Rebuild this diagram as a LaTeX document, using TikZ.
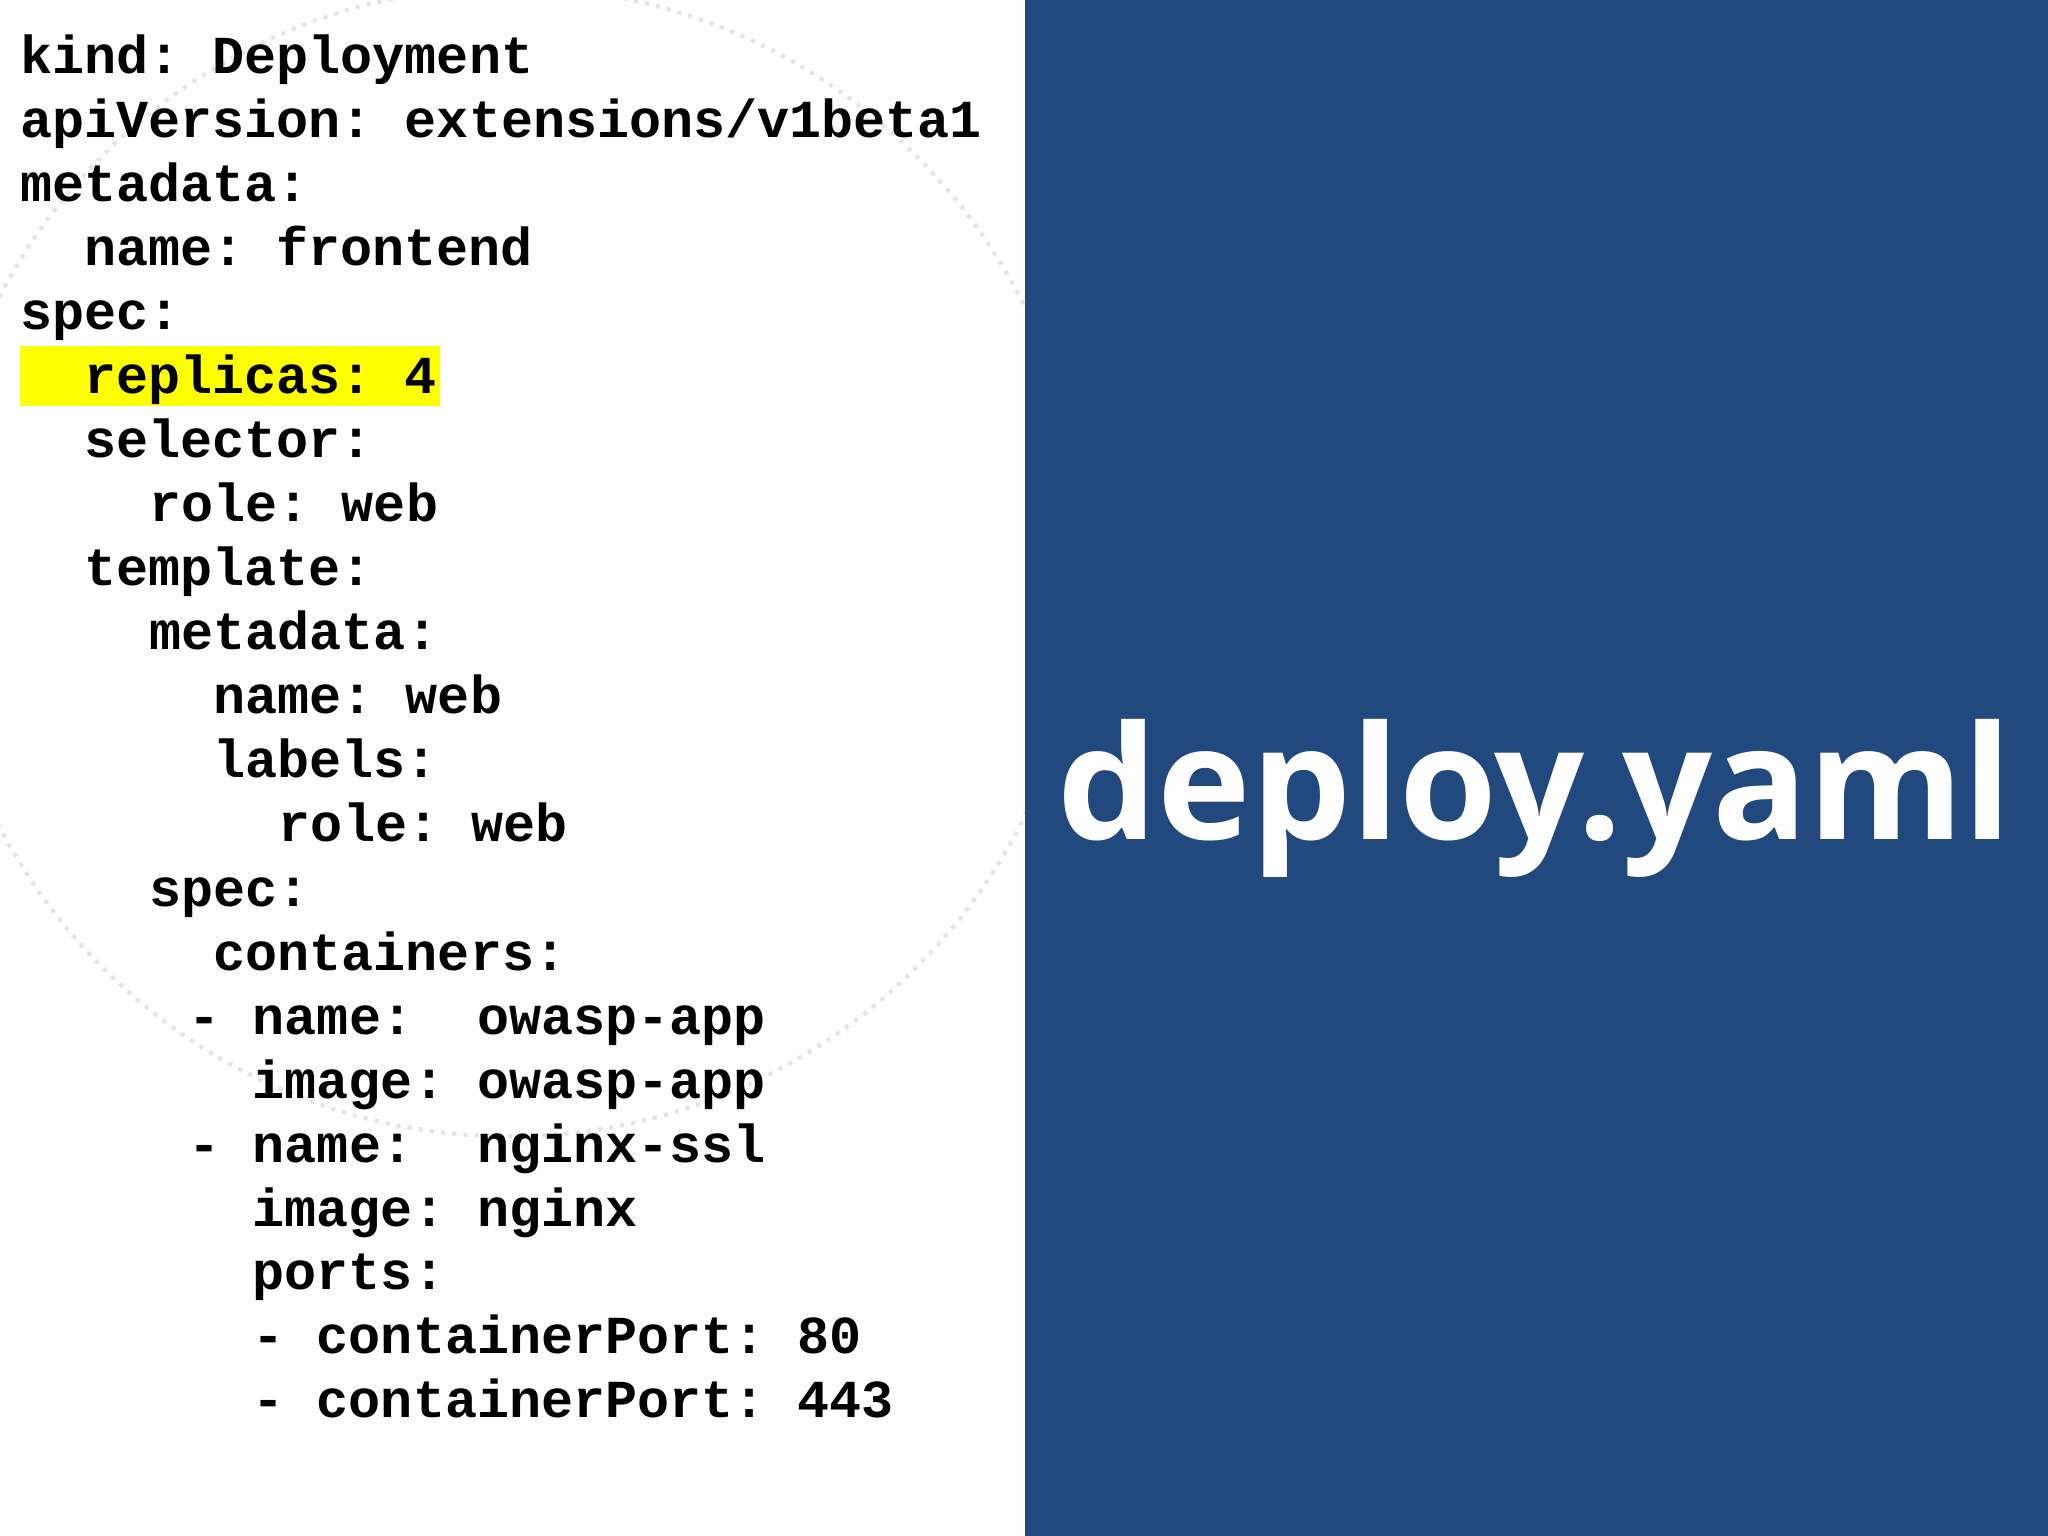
\documentclass[tikz,border=0pt]{standalone}
\usepackage{fontspec}
\setmonofont{Liberation Mono}
\newfontfamily\titlefont{Open Sans}
\definecolor{panel}{HTML}{22497D}
\definecolor{hl}{HTML}{FFFF00}
\begin{document}
\begin{tikzpicture}[x=0.013061cm,y=-0.013061cm,
  code/.style={anchor=base west,inner sep=0pt,font=\fontsize{15.2}{18}\selectfont\ttfamily\bfseries}]
\useasboundingbox (0,0) rectangle (1568,1176);
\fill[white] (0,0) rectangle (1568,1176);
\draw[black!10,dotted,line width=1.2pt] (390,430) circle (440);
\fill[panel] (785,0) rectangle (1568,1176);
\fill[hl] (15,265) rectangle (337,311);
\node[code] (l1) at (15,56) {kind: Deployment};
\node[code] (l2) at (15,105) {apiVersion: extensions/v1beta1};
\node[code] (l3) at (15,154) {metadata:};
\node[code] (l4) at (64,203) {name: frontend};
\node[code] (l5) at (15,252) {spec:};
\node[code] (l6) at (64,301) {replicas: 4};
\node[code] (l7) at (64,350) {selector:};
\node[code] (l8) at (114,399) {role: web};
\node[code] (l9) at (64,448) {template:};
\node[code] (l10) at (114,497) {metadata:};
\node[code] (l11) at (163,546) {name: web};
\node[code] (l12) at (163,595) {labels:};
\node[code] (l13) at (213,644) {role: web};
\node[code] (l14) at (114,694) {spec:};
\node[code] (l15) at (163,743) {containers:};
\node[code] (l16) at (144,792) {- name:~~owasp-app};
\node[code] (l17) at (193,841) {image: owasp-app};
\node[code] (l18) at (144,890) {- name:~~nginx-ssl};
\node[code] (l19) at (193,939) {image: nginx};
\node[code] (l20) at (193,987) {ports:};
\node[code] (l21) at (193,1036) {- containerPort: 80};
\node[code] (l22) at (193,1085) {- containerPort: 443};
\node[text=white,font=\fontsize{45}{52}\selectfont\titlefont\bfseries,inner sep=0pt,anchor=base] (title) at (1175,643) {deploy.yaml};
\end{tikzpicture}
\end{document}
